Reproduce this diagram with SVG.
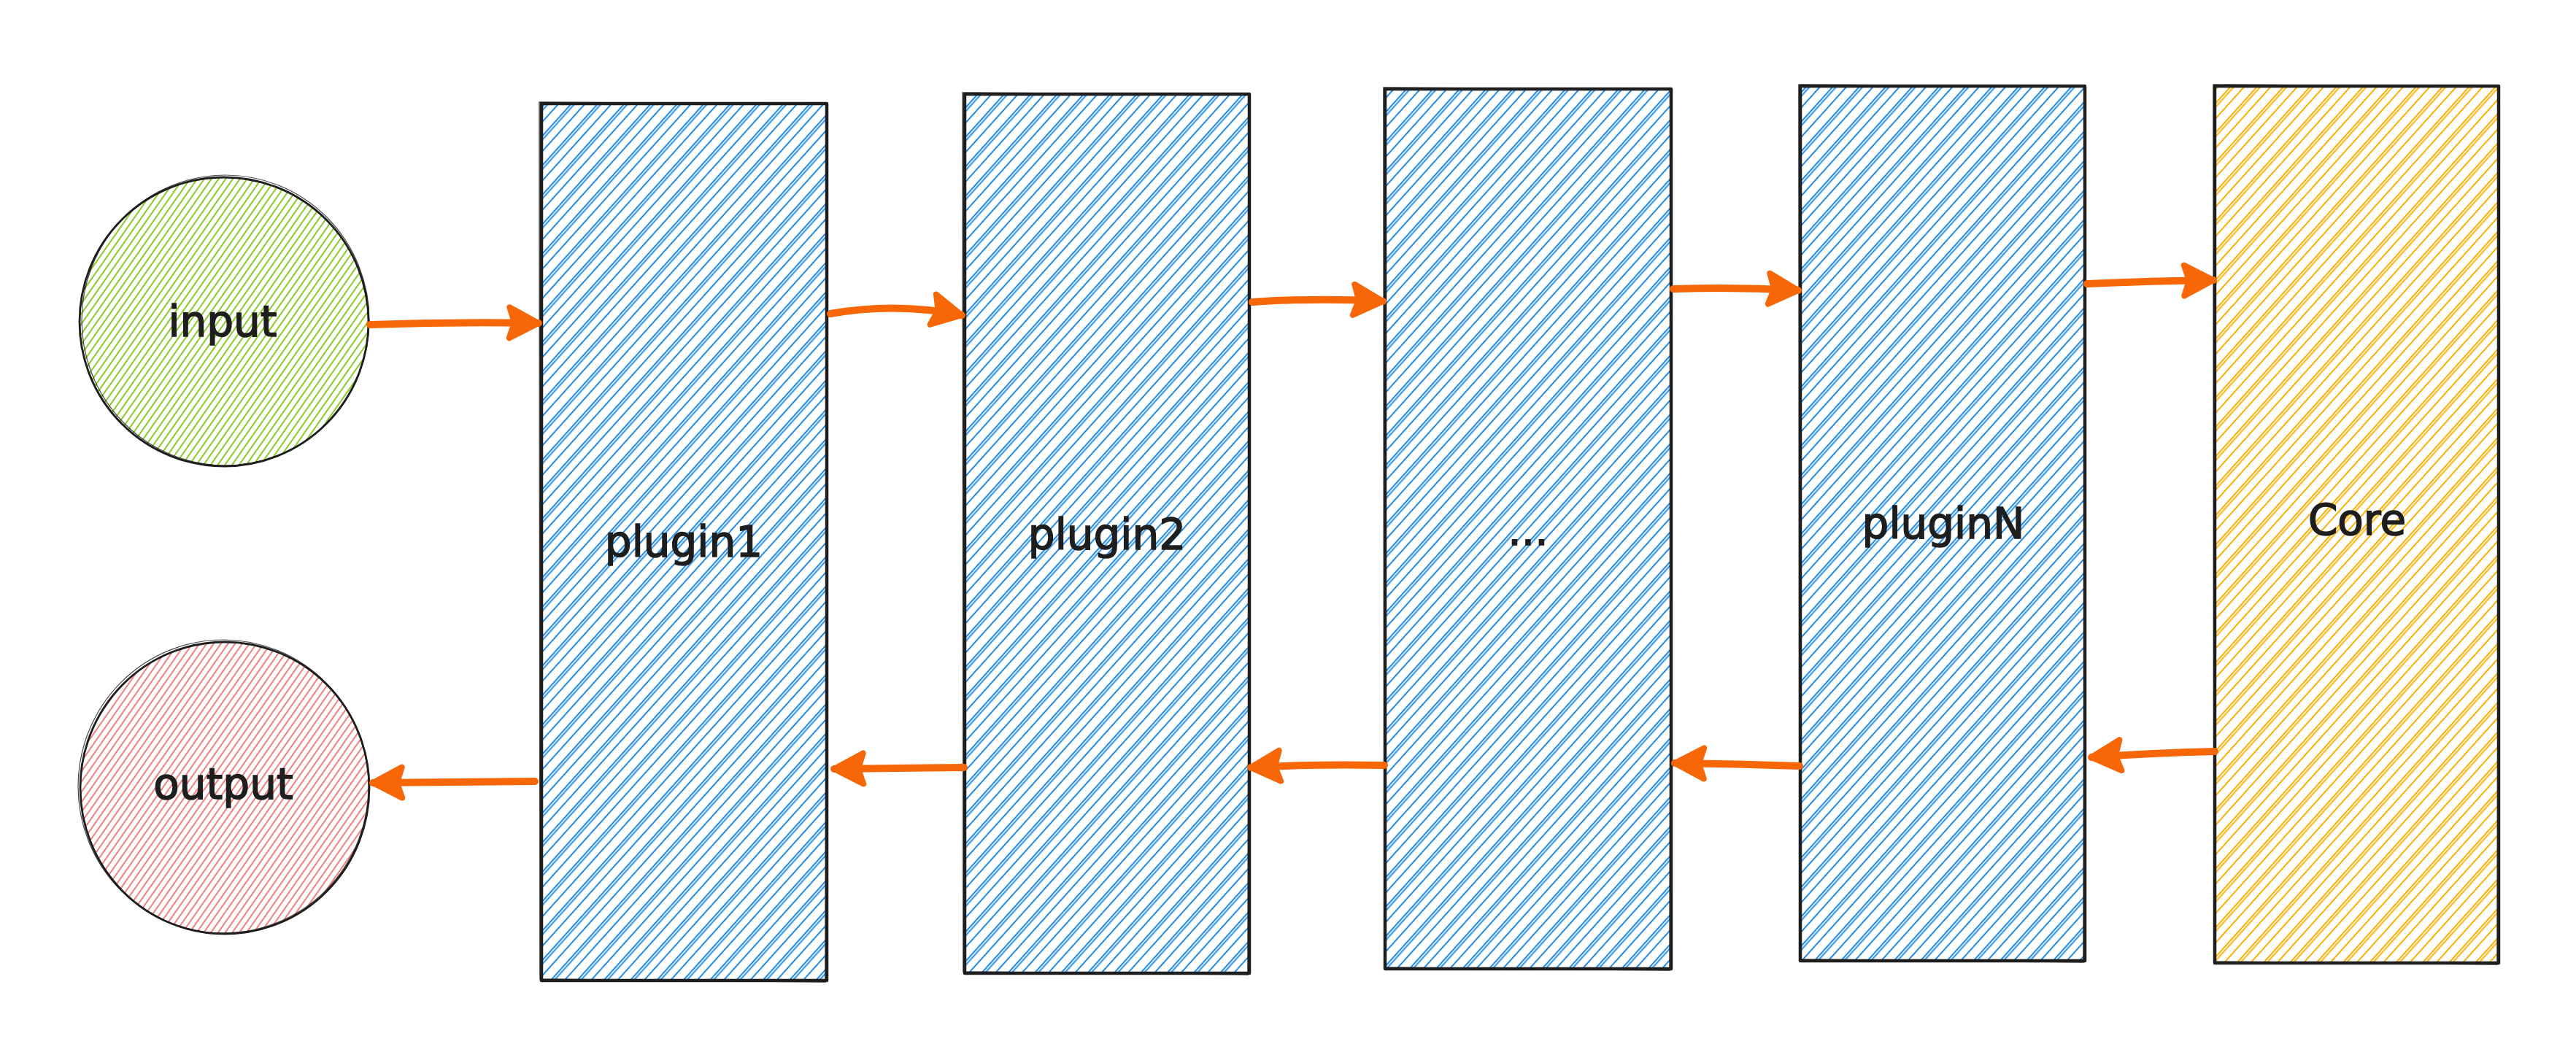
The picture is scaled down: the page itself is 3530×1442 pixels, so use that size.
<svg xmlns="http://www.w3.org/2000/svg" width="3530" height="1442" viewBox="0 0 3530 1442">
<style>
.lbl{font-family:"DejaVu Sans","Liberation Sans",sans-serif;font-size:58px;fill:#1e1e1e;stroke:#1e1e1e;stroke-width:1.6;text-anchor:middle}
.bd{fill:none;stroke:#1e1e1e;stroke-width:4.5;stroke-linejoin:round}
.bd2{fill:none;stroke:#1e1e1e;stroke-width:1.5;opacity:.8}
.cb{fill:none;stroke:#1e1e1e;stroke-width:2.8}
.cb2{fill:none;stroke:#1e1e1e;stroke-width:1.2;opacity:.8}
.arr{fill:none;stroke:#f76707;stroke-width:10;stroke-linecap:round;marker-end:url(#ah)}
</style>
<defs>
<pattern id="hB" width="27" height="27" patternUnits="userSpaceOnUse" patternTransform="rotate(42)">
<path d="M2 0V27M5.5 0V27M16 0V27" stroke="#228be6" stroke-width="2"/>
</pattern>
<pattern id="hY" width="27" height="27" patternUnits="userSpaceOnUse" patternTransform="rotate(42)">
<path d="M2 0V27M5.5 0V27M16 0V27" stroke="#fab005" stroke-width="2"/>
</pattern>
<pattern id="hG" width="8" height="8" patternUnits="userSpaceOnUse" patternTransform="rotate(35)">
<path d="M2 0V8" stroke="#82c91e" stroke-width="1.9"/>
</pattern>
<pattern id="hR" width="8" height="8" patternUnits="userSpaceOnUse" patternTransform="rotate(35)">
<path d="M2 0V8" stroke="#f27878" stroke-width="1.9"/>
</pattern>
<marker id="ah" markerUnits="userSpaceOnUse" markerWidth="80" markerHeight="80" viewBox="-55 -40 80 80" refX="0" refY="0" orient="auto">
<path d="M-40,-21 L0,0 L-40,21 L-33,0 Z" fill="#f76707" stroke="#f76707" stroke-width="8" stroke-linejoin="round"/>
</marker>
</defs>
<rect width="3530" height="1442" fill="#ffffff"/>

<g id="input">
<ellipse cx="307" cy="441" rx="198" ry="198" fill="url(#hG)"/>
<ellipse class="cb" cx="307" cy="441" rx="198" ry="198"/>
<ellipse class="cb2" cx="309" cy="439" rx="197" ry="199"/>
<text class="lbl" x="305" y="461">input</text>
</g>

<g id="output">
<ellipse cx="308" cy="1080" rx="198" ry="200" fill="url(#hR)"/>
<ellipse class="cb" cx="308" cy="1080" rx="198" ry="200"/>
<ellipse class="cb2" cx="306" cy="1078" rx="199" ry="201"/>
<text class="lbl" x="306" y="1095">output</text>
</g>

<g id="plugin1">
<rect x="742" y="142" width="391" height="1202" fill="url(#hB)"/>
<rect class="bd" x="742" y="142" width="391" height="1202"/>
<path class="bd2" d="M739 140 L1134 143 L1131 1346 L740 1342 Z"/>
<text class="lbl" x="937" y="763">plugin1</text>
</g>

<g id="plugin2">
<rect x="1322" y="129" width="390" height="1205" fill="url(#hB)"/>
<rect class="bd" x="1322" y="129" width="390" height="1205"/>
<path class="bd2" d="M1319 127 L1713 130 L1710 1336 L1320 1332 Z"/>
<text class="lbl" x="1517" y="753">plugin2</text>
</g>

<g id="ellipsis">
<rect x="1898" y="122" width="392" height="1206" fill="url(#hB)"/>
<rect class="bd" x="1898" y="122" width="392" height="1206"/>
<path class="bd2" d="M1896 120 L2291 123 L2288 1330 L1897 1326 Z"/>
<text class="lbl" x="2094" y="747">...</text>
</g>

<g id="pluginN">
<rect x="2467" y="118" width="390" height="1199" fill="url(#hB)"/>
<rect class="bd" x="2467" y="118" width="390" height="1199"/>
<path class="bd2" d="M2465 116 L2858 119 L2855 1319 L2466 1315 Z"/>
<text class="lbl" x="2663" y="738">pluginN</text>
</g>

<g id="core">
<rect x="3035" y="118" width="389" height="1202" fill="url(#hY)"/>
<rect class="bd" x="3035" y="118" width="389" height="1202"/>
<path class="bd2" d="M3033 116 L3425 119 L3422 1322 L3034 1318 Z"/>
<text class="lbl" x="3230" y="733">Core</text>
</g>

<g id="connectors">
<path class="arr" d="M507 445 Q620 441 738 443"/>
<path class="arr" d="M1138 430 Q1228 414 1318 432"/>
<path class="arr" d="M1716 414 Q1806 408 1895 413"/>
<path class="arr" d="M2293 396 Q2380 393 2464 398"/>
<path class="arr" d="M2860 389 Q2950 385 3033 384"/>
<path class="arr" d="M3035 1030 Q2950 1032 2866 1038"/>
<path class="arr" d="M2466 1050 Q2380 1047 2295 1046"/>
<path class="arr" d="M1897 1049 Q1800 1047 1714 1052"/>
<path class="arr" d="M1321 1052 Q1230 1053 1143 1054"/>
<path class="arr" d="M733 1071 Q620 1072 511 1073"/>
</g>
</svg>
